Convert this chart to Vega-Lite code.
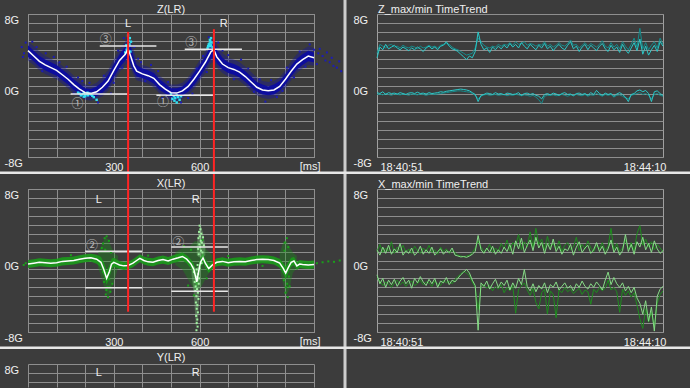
{
"$schema": "https://vega.github.io/schema/vega-lite/v6.json",
"background": "#3c3c3c",
"padding": 0,
"bounds": "flush",
"columns": 2,
"spacing": {"row": 32, "column": 63},
"config": {
 "view": {"stroke": "#a0a0a0", "strokeWidth": 1},
 "font": "Liberation Sans",
 "axis": {"labelColor": "#f0f0f0", "labelFont": "Liberation Sans", "labelFontSize": 11, "gridColor": "#8e8e8e", "gridWidth": 1, "gridOpacity": 1, "titleColor": "#f0f0f0", "titleFont": "Liberation Sans", "titleFontSize": 11, "titleFontWeight": "normal"},
 "title": {"color": "#f0f0f0", "font": "Liberation Sans", "fontSize": 11, "fontWeight": "normal"},
 "text": {"font": "Liberation Sans"}
},
"datasets": {
 "zm": [
  {"ms":0,"g":3.9,"lo":3.2,"hi":4.5,"lo2":2.8,"hi2":4.9},
  {"ms":20,"g":3.3,"lo":2.7,"hi":3.9,"lo2":2.3,"hi2":4.4},
  {"ms":40,"g":2.7,"lo":2.1,"hi":3.3,"lo2":1.7,"hi2":3.8},
  {"ms":60,"g":2.3,"lo":1.7,"hi":2.9,"lo2":1.3,"hi2":3.3},
  {"ms":80,"g":2.0,"lo":1.4,"hi":2.6,"lo2":1.0,"hi2":3.0},
  {"ms":100,"g":1.7,"lo":1.1,"hi":2.3,"lo2":0.7,"hi2":2.7},
  {"ms":120,"g":1.2,"lo":0.6,"hi":1.8,"lo2":0.2,"hi2":2.2},
  {"ms":140,"g":0.7,"lo":0.1,"hi":1.3,"lo2":-0.3,"hi2":1.7},
  {"ms":160,"g":0.1,"lo":-0.5,"hi":0.7,"lo2":-0.9,"hi2":1.1},
  {"ms":180,"g":-0.4,"lo":-0.9,"hi":0.2,"lo2":-1.3,"hi2":0.6},
  {"ms":200,"g":-0.8,"lo":-1.2,"hi":-0.3,"lo2":-1.6,"hi2":0.1},
  {"ms":220,"g":-0.9,"lo":-1.3,"hi":-0.4,"lo2":-1.7,"hi2":0.0},
  {"ms":240,"g":-0.7,"lo":-1.2,"hi":-0.1,"lo2":-1.5,"hi2":0.3},
  {"ms":260,"g":-0.2,"lo":-0.8,"hi":0.4,"lo2":-1.2,"hi2":0.9},
  {"ms":280,"g":0.5,"lo":-0.2,"hi":1.2,"lo2":-0.6,"hi2":1.7},
  {"ms":300,"g":1.7,"lo":0.9,"hi":2.4,"lo2":0.4,"hi2":2.9},
  {"ms":320,"g":2.8,"lo":2.0,"hi":3.5,"lo2":1.5,"hi2":4.0},
  {"ms":340,"g":3.5,"lo":2.8,"hi":4.3,"lo2":2.3,"hi2":4.9},
  {"ms":350,"g":4.1,"lo":3.2,"hi":4.8,"lo2":2.6,"hi2":5.6},
  {"ms":360,"g":3.2,"lo":2.3,"hi":4.3,"lo2":1.8,"hi2":5.0},
  {"ms":370,"g":2.2,"lo":1.5,"hi":3.2,"lo2":1.1,"hi2":3.9},
  {"ms":380,"g":1.6,"lo":1.0,"hi":2.3,"lo2":0.6,"hi2":2.8},
  {"ms":400,"g":1.3,"lo":0.8,"hi":1.9,"lo2":0.4,"hi2":2.3},
  {"ms":420,"g":1.1,"lo":0.6,"hi":1.7,"lo2":0.2,"hi2":2.1},
  {"ms":440,"g":0.8,"lo":0.2,"hi":1.4,"lo2":-0.2,"hi2":1.8},
  {"ms":460,"g":0.1,"lo":-0.5,"hi":0.7,"lo2":-0.9,"hi2":1.1},
  {"ms":480,"g":-0.4,"lo":-0.9,"hi":0.2,"lo2":-1.3,"hi2":0.6},
  {"ms":500,"g":-0.8,"lo":-1.3,"hi":-0.3,"lo2":-1.7,"hi2":0.1},
  {"ms":520,"g":-0.85,"lo":-1.4,"hi":-0.3,"lo2":-1.8,"hi2":0.1},
  {"ms":540,"g":-0.6,"lo":-1.1,"hi":-0.1,"lo2":-1.5,"hi2":0.3},
  {"ms":560,"g":-0.1,"lo":-0.7,"hi":0.5,"lo2":-1.1,"hi2":0.9},
  {"ms":580,"g":0.7,"lo":0.0,"hi":1.4,"lo2":-0.4,"hi2":1.8},
  {"ms":600,"g":1.6,"lo":0.9,"hi":2.3,"lo2":0.5,"hi2":2.8},
  {"ms":620,"g":2.6,"lo":1.9,"hi":3.3,"lo2":1.4,"hi2":3.8},
  {"ms":640,"g":3.8,"lo":3.0,"hi":4.5,"lo2":2.5,"hi2":5.0},
  {"ms":650,"g":4.0,"lo":3.2,"hi":4.8,"lo2":2.7,"hi2":5.5},
  {"ms":660,"g":3.2,"lo":2.5,"hi":4.0,"lo2":2.0,"hi2":4.6},
  {"ms":680,"g":2.4,"lo":1.8,"hi":3.1,"lo2":1.4,"hi2":3.6},
  {"ms":700,"g":2.0,"lo":1.4,"hi":2.6,"lo2":1.0,"hi2":3.1},
  {"ms":720,"g":1.8,"lo":1.2,"hi":2.4,"lo2":0.8,"hi2":2.9},
  {"ms":740,"g":1.5,"lo":0.9,"hi":2.1,"lo2":0.5,"hi2":2.6},
  {"ms":760,"g":1.0,"lo":0.4,"hi":1.6,"lo2":0.0,"hi2":2.1},
  {"ms":780,"g":0.4,"lo":-0.2,"hi":1.0,"lo2":-0.6,"hi2":1.5},
  {"ms":800,"g":-0.2,"lo":-0.7,"hi":0.4,"lo2":-1.1,"hi2":0.9},
  {"ms":820,"g":-0.5,"lo":-1.0,"hi":0.1,"lo2":-1.4,"hi2":0.5},
  {"ms":840,"g":-0.6,"lo":-1.1,"hi":-0.1,"lo2":-1.5,"hi2":0.4},
  {"ms":860,"g":-0.5,"lo":-1.0,"hi":0.1,"lo2":-1.4,"hi2":0.5},
  {"ms":880,"g":-0.1,"lo":-0.6,"hi":0.5,"lo2":-1.0,"hi2":0.9},
  {"ms":900,"g":0.7,"lo":0.1,"hi":1.3,"lo2":-0.3,"hi2":1.7},
  {"ms":920,"g":1.6,"lo":1.0,"hi":2.2,"lo2":0.6,"hi2":2.7},
  {"ms":940,"g":2.4,"lo":1.8,"hi":3.0,"lo2":1.4,"hi2":3.5},
  {"ms":960,"g":2.9,"lo":2.3,"hi":3.5,"lo2":1.9,"hi2":4.0},
  {"ms":980,"g":3.3,"lo":2.7,"hi":3.9,"lo2":2.3,"hi2":4.4},
  {"ms":1000,"g":3.1,"lo":2.6,"hi":3.7,"lo2":2.2,"hi2":4.2}
 ],
 "zpts": [
  {"ms":-22,"g":4.3},{"ms":-14,"g":3.6},{"ms":-8,"g":4.8},{"ms":-18,"g":3.2},{"ms":15,"g":4.9},{"ms":30,"g":4.3},{"ms":62,"g":3.6},{"ms":110,"g":2.6},{"ms":135,"g":2.1},{"ms":175,"g":0.9},{"ms":215,"g":0.3},{"ms":245,"g":-1.9},{"ms":290,"g":-0.9},{"ms":315,"g":3.9},{"ms":335,"g":5.3},{"ms":372,"g":4.3},{"ms":395,"g":2.6},{"ms":430,"g":2.3},{"ms":470,"g":-1.4},{"ms":535,"g":-1.9},{"ms":575,"g":-0.9},{"ms":612,"g":3.3},{"ms":632,"g":5.4},{"ms":665,"g":4.8},{"ms":700,"g":3.4},{"ms":745,"g":2.9},{"ms":790,"g":-0.7},{"ms":830,"g":-1.8},{"ms":870,"g":-1.3},{"ms":905,"g":2.0},{"ms":950,"g":3.8},{"ms":985,"g":4.6},{"ms":1000,"g":4.0},{"ms":1015,"g":3.6},{"ms":1030,"g":3.3},{"ms":1040,"g":2.8},{"ms":1055,"g":2.6},{"ms":1068,"g":2.2},{"ms":1080,"g":2.0},{"ms":1095,"g":1.6},{"ms":1020,"g":4.1},{"ms":1045,"g":3.7},{"ms":1010,"g":2.4},{"ms":1062,"g":3.1},{"ms":1088,"g":2.7},
  {"ms":50,"g":1.6},{"ms":90,"g":3.2},{"ms":160,"g":-0.9},{"ms":190,"g":0.5},{"ms":265,"g":1.1},{"ms":300,"g":0.3},{"ms":330,"g":2.0},{"ms":385,"g":3.0},{"ms":410,"g":0.5},{"ms":455,"g":1.6},{"ms":490,"g":0.4},{"ms":560,"g":-1.4},{"ms":590,"g":1.9},{"ms":625,"g":1.5},{"ms":680,"g":3.9},{"ms":720,"g":0.7},{"ms":770,"g":1.9},{"ms":810,"g":0.7},{"ms":850,"g":0.6},{"ms":890,"g":-0.6},{"ms":930,"g":0.9},{"ms":970,"g":2.1}
 ],
 "zcyan": [
  {"ms":175,"g":-0.8},{"ms":180,"g":-0.9},{"ms":185,"g":-1.1},{"ms":190,"g":-1.0},{"ms":195,"g":-0.85},{"ms":195,"g":-1.25},{"ms":200,"g":-1.05},{"ms":200,"g":-1.2},{"ms":205,"g":-0.95},{"ms":208,"g":-0.8},{"ms":210,"g":-1.1},{"ms":215,"g":-0.9},{"ms":220,"g":-1.0},{"ms":225,"g":-1.15},{"ms":230,"g":-1.3},{"ms":240,"g":-1.6},
  {"ms":340,"g":3.7},{"ms":344,"g":4.5},{"ms":345,"g":4.0},{"ms":348,"g":4.2},{"ms":350,"g":4.4},{"ms":350,"g":5.6},{"ms":352,"g":5.0},{"ms":355,"g":4.6},{"ms":356,"g":5.3},{"ms":358,"g":3.8},{"ms":360,"g":4.9},
  {"ms":500,"g":-1.0},{"ms":505,"g":-1.5},{"ms":510,"g":-1.2},{"ms":512,"g":-1.7},{"ms":515,"g":-1.4},{"ms":520,"g":-1.1},{"ms":520,"g":-1.9},{"ms":525,"g":-1.3},{"ms":530,"g":-1.6},{"ms":535,"g":-1.2},
  {"ms":628,"g":4.2},{"ms":630,"g":4.4},{"ms":632,"g":4.6},{"ms":635,"g":4.7},{"ms":636,"g":5.1},{"ms":637,"g":4.4},{"ms":638,"g":4.9},{"ms":640,"g":4.5},{"ms":640,"g":5.3},{"ms":642,"g":4.8},{"ms":645,"g":4.3},{"ms":648,"g":4.1}
 ],
 "zthr": [{"ms":149,"ms2":348,"g":-0.95},{"ms":251,"ms2":449,"g":4.42},{"ms":449,"ms2":647,"g":-1.1},{"ms":548,"ms2":748,"g":4.05}],
 "zcirc": [{"ms":272,"g":5.09,"txt":"③"},{"ms":173,"g":-2.1,"txt":"①"},{"ms":472,"g":-1.88,"txt":"①"},{"ms":571,"g":4.72,"txt":"③"}],
 "zlr": [{"ms":350,"g":6.88,"txt":"L"},{"ms":684,"g":6.88,"txt":"R"}],
 "zred": [{"ms":350,"g":6.0},{"ms":650,"g":6.3}],
 "xm": [
  {"ms":0,"g":-0.4,"lo":-0.85,"hi":0.05},{"ms":20,"g":-0.3,"lo":-0.75,"hi":0.15},{"ms":40,"g":-0.2,"lo":-0.65,"hi":0.25},{"ms":60,"g":-0.25,"lo":-0.7,"hi":0.2},{"ms":80,"g":-0.3,"lo":-0.75,"hi":0.15},{"ms":100,"g":-0.25,"lo":-0.7,"hi":0.2},{"ms":120,"g":-0.1,"lo":-0.55,"hi":0.35},{"ms":140,"g":-0.05,"lo":-0.5,"hi":0.4},{"ms":160,"g":0.0,"lo":-0.45,"hi":0.45},{"ms":180,"g":0.15,"lo":-0.3,"hi":0.6},{"ms":200,"g":0.25,"lo":-0.2,"hi":0.7},{"ms":220,"g":0.3,"lo":-0.15,"hi":0.75},{"ms":240,"g":0.15,"lo":-0.35,"hi":0.65},{"ms":255,"g":-0.2,"lo":-0.8,"hi":0.4},{"ms":265,"g":-1.0,"lo":-1.7,"hi":-0.2},{"ms":275,"g":-2.0,"lo":-2.7,"hi":-1.2},{"ms":285,"g":-1.2,"lo":-1.9,"hi":-0.5},{"ms":292,"g":-0.4,"lo":-1.0,"hi":0.2},{"ms":300,"g":-0.2,"lo":-0.7,"hi":0.3},{"ms":310,"g":-0.35,"lo":-0.8,"hi":0.1},{"ms":320,"g":-0.5,"lo":-0.95,"hi":-0.05},{"ms":335,"g":-0.6,"lo":-1.05,"hi":-0.15},{"ms":350,"g":-0.55,"lo":-1.0,"hi":-0.1},{"ms":367,"g":-0.3,"lo":-0.75,"hi":0.15},{"ms":380,"g":0.0,"lo":-0.45,"hi":0.45},{"ms":391,"g":0.25,"lo":-0.2,"hi":0.7},{"ms":405,"g":0.0,"lo":-0.45,"hi":0.45},{"ms":420,"g":-0.15,"lo":-0.6,"hi":0.3},{"ms":437,"g":-0.2,"lo":-0.65,"hi":0.25},{"ms":455,"g":0.0,"lo":-0.45,"hi":0.45},{"ms":472,"g":0.1,"lo":-0.35,"hi":0.55},{"ms":490,"g":-0.05,"lo":-0.5,"hi":0.4},{"ms":507,"g":0.15,"lo":-0.3,"hi":0.6},{"ms":525,"g":0.3,"lo":-0.15,"hi":0.75},{"ms":540,"g":0.45,"lo":0.0,"hi":0.9},{"ms":555,"g":0.15,"lo":-0.3,"hi":0.6},{"ms":570,"g":-0.4,"lo":-0.9,"hi":0.1},{"ms":580,"g":-1.0,"lo":-1.6,"hi":-0.4},{"ms":590,"g":-2.4,"lo":-3.1,"hi":-1.7},{"ms":597,"g":-1.2,"lo":-1.9,"hi":-0.5},{"ms":603,"g":-0.2,"lo":-0.8,"hi":0.4},{"ms":612,"g":0.3,"lo":-0.2,"hi":0.8},{"ms":620,"g":-0.3,"lo":-0.8,"hi":0.2},{"ms":632,"g":-0.9,"lo":-1.4,"hi":-0.4},{"ms":645,"g":-0.5,"lo":-0.95,"hi":-0.05},{"ms":660,"g":-0.2,"lo":-0.65,"hi":0.25},{"ms":680,"g":-0.1,"lo":-0.55,"hi":0.35},{"ms":700,"g":-0.25,"lo":-0.7,"hi":0.2},{"ms":720,"g":-0.15,"lo":-0.6,"hi":0.3},{"ms":740,"g":-0.1,"lo":-0.55,"hi":0.35},{"ms":760,"g":-0.15,"lo":-0.6,"hi":0.3},{"ms":780,"g":0.0,"lo":-0.45,"hi":0.45},{"ms":800,"g":0.1,"lo":-0.35,"hi":0.55},{"ms":820,"g":0.15,"lo":-0.3,"hi":0.6},{"ms":840,"g":0.1,"lo":-0.35,"hi":0.55},{"ms":860,"g":0.0,"lo":-0.45,"hi":0.45},{"ms":880,"g":-0.3,"lo":-0.8,"hi":0.2},{"ms":893,"g":-0.9,"lo":-1.5,"hi":-0.3},{"ms":901,"g":-1.4,"lo":-2.1,"hi":-0.7},{"ms":910,"g":-0.8,"lo":-1.4,"hi":-0.2},{"ms":920,"g":-0.2,"lo":-0.7,"hi":0.3},{"ms":930,"g":-0.05,"lo":-0.5,"hi":0.4},{"ms":940,"g":-0.6,"lo":-1.05,"hi":-0.15},{"ms":950,"g":-0.4,"lo":-0.85,"hi":0.05},{"ms":960,"g":-0.45,"lo":-0.9,"hi":0.0},{"ms":980,"g":-0.5,"lo":-0.95,"hi":-0.05},{"ms":1000,"g":-0.45,"lo":-0.9,"hi":0.0}
 ],
 "xspd": [
  {"grp":"a","ms":245,"lo":-0.8,"hi":0.8},{"grp":"a","ms":258,"lo":-2.0,"hi":1.8},{"grp":"a","ms":270,"lo":-3.4,"hi":2.6},{"grp":"a","ms":280,"lo":-4.0,"hi":2.4},{"grp":"a","ms":290,"lo":-3.6,"hi":1.6},{"grp":"a","ms":302,"lo":-2.2,"hi":0.8},{"grp":"a","ms":315,"lo":-0.8,"hi":0.5},
  {"grp":"b","ms":515,"lo":-0.5,"hi":0.9},{"grp":"b","ms":540,"lo":-1.0,"hi":1.4},{"grp":"b","ms":565,"lo":-2.4,"hi":1.6},{"grp":"b","ms":585,"lo":-3.5,"hi":2.2},{"grp":"b","ms":605,"lo":-3.0,"hi":2.0},{"grp":"b","ms":625,"lo":-1.8,"hi":1.2},{"grp":"b","ms":645,"lo":-0.8,"hi":0.6},
  {"grp":"c","ms":880,"lo":-0.9,"hi":0.8},{"grp":"c","ms":892,"lo":-2.6,"hi":2.0},{"grp":"c","ms":902,"lo":-4.0,"hi":2.3},{"grp":"c","ms":914,"lo":-3.2,"hi":1.5},{"grp":"c","ms":926,"lo":-1.4,"hi":0.9},{"grp":"c","ms":940,"lo":-0.8,"hi":0.5}
 ],
 "xspl": [
  {"grp":"u","ms":590,"lo":0.6,"hi":1.8},{"grp":"u","ms":597,"lo":0.4,"hi":3.4},{"grp":"u","ms":604,"lo":0.3,"hi":4.0},{"grp":"u","ms":612,"lo":0.4,"hi":3.1},{"grp":"u","ms":620,"lo":0.6,"hi":1.6},
  {"grp":"d","ms":572,"lo":-1.6,"hi":-0.6},{"grp":"d","ms":580,"lo":-3.8,"hi":-0.6},{"grp":"d","ms":587,"lo":-7.4,"hi":-0.9},{"grp":"d","ms":594,"lo":-6.8,"hi":-0.7},{"grp":"d","ms":601,"lo":-2.6,"hi":-0.4}
 ],
 "xpts": [
  {"ms":262,"g":1.9},{"ms":268,"g":2.5},{"ms":275,"g":2.7},{"ms":283,"g":2.2},{"ms":272,"g":-3.8},{"ms":280,"g":-4.1},{"ms":288,"g":-3.5},{"ms":278,"g":-3.0},{"ms":295,"g":-2.6},{"ms":258,"g":1.4},{"ms":266,"g":-2.4},{"ms":284,"g":-2.1},{"ms":276,"g":-1.6},{"ms":270,"g":1.2},{"ms":290,"g":0.9},{"ms":286,"g":-3.0},{"ms":274,"g":-3.3},{"ms":262,"g":-1.3},
  {"ms":-8,"g":-0.3},{"ms":-15,"g":-0.5},{"ms":1010,"g":-0.3},{"ms":1030,"g":-0.2},{"ms":1050,"g":-0.1},{"ms":1070,"g":-0.15},{"ms":1090,"g":0.0},
  {"ms":905,"g":2.5},{"ms":898,"g":2.0},{"ms":908,"g":-4.1},{"ms":900,"g":-3.6},{"ms":915,"g":-2.9},{"ms":895,"g":-2.2},{"ms":910,"g":1.5},{"ms":903,"g":-3.0},{"ms":897,"g":1.1},{"ms":912,"g":-1.8},{"ms":906,"g":-2.6},
  {"ms":560,"g":-2.8},{"ms":580,"g":-3.9},{"ms":610,"g":2.3},{"ms":545,"g":1.6},{"ms":570,"g":1.2},{"ms":625,"g":-2.0},{"ms":150,"g":0.6},{"ms":420,"g":0.55},{"ms":700,"g":0.5},{"ms":820,"g":-0.6}
 ],
 "xlpts": [
  {"ms":600,"g":3.9},{"ms":603,"g":3.5},{"ms":598,"g":3.2},{"ms":606,"g":3.0},{"ms":601,"g":2.7},{"ms":596,"g":2.5},{"ms":604,"g":2.2},{"ms":608,"g":2.0},{"ms":599,"g":1.8},{"ms":602,"g":1.5},{"ms":595,"g":1.3},{"ms":605,"g":1.1},{"ms":610,"g":0.9},{"ms":612,"g":2.6},{"ms":615,"g":1.7},{"ms":597,"g":0.7},{"ms":607,"g":-0.3},{"ms":600,"g":-0.9},{"ms":593,"g":-0.5},{"ms":590,"g":-1.0},{"ms":580,"g":-1.3},{"ms":595,"g":-1.5},{"ms":588,"g":-1.8},{"ms":598,"g":-2.0},{"ms":592,"g":-2.2},{"ms":583,"g":-2.4},{"ms":597,"g":-2.6},{"ms":586,"g":-2.9},{"ms":591,"g":-3.2},{"ms":585,"g":-3.4},{"ms":594,"g":-3.6},{"ms":589,"g":-4.0},{"ms":596,"g":-4.3},{"ms":587,"g":-4.7},{"ms":592,"g":-5.0},{"ms":590,"g":-5.4},{"ms":594,"g":-5.8},{"ms":588,"g":-6.2},{"ms":592,"g":-6.6},{"ms":590,"g":-7.0},{"ms":593,"g":-7.4},{"ms":589,"g":-7.8}
 ],
 "xthr": [{"ms":200,"ms2":399,"g":1.03},{"ms":200,"ms2":399,"g":-3.04},{"ms":501,"ms2":699,"g":1.51},{"ms":501,"ms2":699,"g":-3.45}],
 "xcirc": [{"ms":224,"g":1.62,"txt":"②"},{"ms":525,"g":2.0,"txt":"②"}],
 "xlr": [{"ms":248,"g":6.77,"txt":"L"},{"ms":586,"g":6.77,"txt":"R"}],
 "xred": [{"ms":350,"g":8},{"ms":650,"g":8}],
 "ylr": [{"ms":248,"g":6.96,"txt":"L"},{"ms":586,"g":6.96,"txt":"R"}],
 "trend": [
  {"t":0,"zu":3.1,"zu2":3.6,"zl":-0.8,"zl2":-1.0,"xu":1.2,"xu2":1.0,"xl":-1.6,"xl2":-2.0},
  {"t":2,"zu":4.3,"zu2":4.6,"zl":-0.9,"zl2":-0.95,"xu":0.6,"xu2":1.8,"xl":-2.6,"xl2":-2.3},
  {"t":4,"zu":4.0,"zu2":4.4,"zl":-0.7,"zl2":-1.05,"xu":1.5,"xu2":0.9,"xl":-2.0,"xl2":-2.8},
  {"t":6,"zu":4.6,"zu2":4.2,"zl":-1.0,"zl2":-0.9,"xu":0.8,"xu2":1.4,"xl":-3.0,"xl2":-2.4},
  {"t":8,"zu":4.1,"zu2":4.5,"zl":-0.8,"zl2":-1.0,"xu":1.7,"xu2":1.0,"xl":-2.2,"xl2":-2.6},
  {"t":10,"zu":4.3,"zu2":4.6,"zl":-0.9,"zl2":-1.1,"xu":0.7,"xu2":2.1,"xl":-2.7,"xl2":-3.0},
  {"t":12,"zu":4.5,"zu2":4.3,"zl":-0.85,"zl2":-0.95,"xu":1.3,"xu2":0.8,"xl":-2.1,"xl2":-2.5},
  {"t":14,"zu":4.2,"zu2":4.4,"zl":-0.95,"zl2":-1.0,"xu":0.9,"xu2":1.5,"xl":-2.9,"xl2":-2.2},
  {"t":16,"zu":4.0,"zu2":4.2,"zl":-0.8,"zl2":-1.05,"xu":1.9,"xu2":1.1,"xl":-2.3,"xl2":-2.7},
  {"t":18,"zu":4.3,"zu2":4.5,"zl":-0.9,"zl2":-0.95,"xu":0.6,"xu2":1.7,"xl":-1.9,"xl2":-2.4},
  {"t":20,"zu":4.1,"zu2":4.3,"zl":-1.0,"zl2":-1.0,"xu":1.1,"xu2":0.9,"xl":-2.6,"xl2":-2.9},
  {"t":22,"zu":3.9,"zu2":4.2,"zl":-0.85,"zl2":-1.1,"xu":0.8,"xu2":1.3,"xl":-2.2,"xl2":-2.5},
  {"t":24,"zu":4.2,"zu2":4.4,"zl":-0.8,"zl2":-0.95,"xu":1.4,"xu2":0.8,"xl":-3.1,"xl2":-2.3},
  {"t":26,"zu":4.0,"zu2":4.3,"zl":-0.9,"zl2":-1.0,"xu":0.6,"xu2":1.6,"xl":-2.0,"xl2":-2.8},
  {"t":28,"zu":4.3,"zu2":4.1,"zl":-0.75,"zl2":-1.05,"xu":0.9,"xu2":1.1,"xl":-2.5,"xl2":-2.6},
  {"t":30,"zu":4.1,"zu2":4.4,"zl":-0.9,"zl2":-0.95,"xu":1.6,"xu2":0.8,"xl":-1.8,"xl2":-2.2},
  {"t":32,"zu":3.8,"zu2":4.2,"zl":-0.85,"zl2":-1.0,"xu":0.7,"xu2":1.4,"xl":-2.4,"xl2":-2.7},
  {"t":34,"zu":4.2,"zu2":4.3,"zl":-0.95,"zl2":-1.1,"xu":1.2,"xu2":1.0,"xl":-2.8,"xl2":-2.4},
  {"t":36,"zu":4.4,"zu2":4.5,"zl":-0.8,"zl2":-1.0,"xu":0.8,"xu2":1.7,"xl":-2.1,"xl2":-2.5},
  {"t":38,"zu":4.1,"zu2":4.3,"zl":-0.9,"zl2":-0.95,"xu":1.5,"xu2":0.9,"xl":-2.6,"xl2":-2.9},
  {"t":40,"zu":4.3,"zu2":4.4,"zl":-0.85,"zl2":-1.0,"xu":0.6,"xu2":1.2,"xl":-2.0,"xl2":-2.3},
  {"t":42,"zu":4.0,"zu2":4.2,"zl":-0.8,"zl2":-0.95,"xu":1.0,"xu2":0.7,"xl":-3.0,"xl2":-2.6},
  {"t":44,"zu":4.4,"zu2":4.5,"zl":-0.7,"zl2":-0.9,"xu":1.3,"xu2":1.5,"xl":-2.3,"xl2":-2.8},
  {"t":46,"zu":4.5,"zu2":4.6,"zl":-0.75,"zl2":-0.85,"xu":0.7,"xu2":1.0,"xl":-2.5,"xl2":-2.2},
  {"t":48,"zu":4.9,"zu2":4.7,"zl":-0.65,"zl2":-0.8,"xu":1.1,"xu2":1.3,"xl":-1.9,"xl2":-2.5},
  {"t":50,"zu":4.4,"zu2":4.6,"zl":-0.6,"zl2":-0.75,"xu":0.9,"xu2":0.8,"xl":-2.7,"xl2":-2.3},
  {"t":52,"zu":4.1,"zu2":4.3,"zl":-0.55,"zl2":-0.7,"xu":1.4,"xu2":1.1,"xl":-2.2,"xl2":-2.6},
  {"t":54,"zu":4.0,"zu2":4.1,"zl":-0.5,"zl2":-0.65,"xu":0.6,"xu2":0.9,"xl":-2.4,"xl2":-2.1},
  {"t":56,"zu":3.8,"zu2":4.0,"zl":-0.45,"zl2":-0.6,"xu":0.5,"xu2":0.6,"xl":-2.0,"xl2":-1.8},
  {"t":58,"zu":3.5,"zu2":3.8,"zl":-0.4,"zl2":-0.6,"xu":0.4,"xu2":0.5,"xl":-1.6,"xl2":-1.5},
  {"t":60,"zu":3.2,"zu2":3.6,"zl":-0.45,"zl2":-0.65,"xu":0.45,"xu2":0.4,"xl":-1.3,"xl2":-1.2},
  {"t":62,"zu":2.9,"zu2":3.4,"zl":-0.5,"zl2":-0.7,"xu":0.35,"xu2":0.5,"xl":-1.0,"xl2":-1.4},
  {"t":64,"zu":3.3,"zu2":3.5,"zl":-0.6,"zl2":-0.75,"xu":0.5,"xu2":0.6,"xl":-1.4,"xl2":-1.7},
  {"t":66,"zu":3.1,"zu2":3.6,"zl":-0.8,"zl2":-0.9,"xu":0.7,"xu2":0.9,"xl":-2.2,"xl2":-2.4},
  {"t":68,"zu":3.8,"zu2":4.2,"zl":-1.0,"zl2":-1.1,"xu":1.0,"xu2":1.4,"xl":-2.8,"xl2":-3.0},
  {"t":70,"zu":6.0,"zu2":5.3,"zl":-1.8,"zl2":-1.5,"xu":2.8,"xu2":2.2,"xl":-7.8,"xl2":-5.5},
  {"t":72,"zu":4.6,"zu2":4.9,"zl":-1.1,"zl2":-1.2,"xu":1.2,"xu2":1.5,"xl":-2.5,"xl2":-3.0},
  {"t":74,"zu":4.0,"zu2":4.5,"zl":-1.0,"zl2":-1.05,"xu":0.8,"xu2":1.0,"xl":-2.9,"xl2":-2.7},
  {"t":76,"zu":4.2,"zu2":4.3,"zl":-0.85,"zl2":-1.0,"xu":1.4,"xu2":1.2,"xl":-2.3,"xl2":-3.1},
  {"t":78,"zu":3.7,"zu2":4.2,"zl":-0.9,"zl2":-1.1,"xu":0.9,"xu2":1.8,"xl":-3.2,"xl2":-2.8},
  {"t":80,"zu":4.3,"zu2":4.4,"zl":-1.0,"zl2":-1.05,"xu":1.6,"xu2":0.9,"xl":-2.6,"xl2":-3.4},
  {"t":82,"zu":4.0,"zu2":4.3,"zl":-0.8,"zl2":-1.0,"xu":0.7,"xu2":1.4,"xl":-2.1,"xl2":-2.9},
  {"t":84,"zu":4.4,"zu2":4.6,"zl":-0.95,"zl2":-1.1,"xu":1.2,"xu2":1.0,"xl":-3.0,"xl2":-3.2},
  {"t":86,"zu":4.1,"zu2":4.4,"zl":-0.9,"zl2":-1.05,"xu":0.8,"xu2":1.9,"xl":-2.4,"xl2":-2.7},
  {"t":88,"zu":4.5,"zu2":4.6,"zl":-1.05,"zl2":-1.0,"xu":1.5,"xu2":1.3,"xl":-2.8,"xl2":-3.6},
  {"t":90,"zu":4.2,"zu2":4.5,"zl":-0.85,"zl2":-1.15,"xu":1.0,"xu2":2.3,"xl":-2.2,"xl2":-3.0},
  {"t":92,"zu":4.7,"zu2":4.8,"zl":-0.9,"zl2":-1.05,"xu":1.8,"xu2":1.1,"xl":-3.3,"xl2":-3.4},
  {"t":94,"zu":4.3,"zu2":4.5,"zl":-1.0,"zl2":-1.1,"xu":0.7,"xu2":2.0,"xl":-2.5,"xl2":-2.8},
  {"t":96,"zu":4.6,"zu2":4.9,"zl":-0.95,"zl2":-1.0,"xu":2.2,"xu2":1.6,"xl":-3.1,"xl2":-5.9},
  {"t":98,"zu":4.2,"zu2":4.6,"zl":-0.8,"zl2":-1.05,"xu":1.3,"xu2":2.9,"xl":-2.0,"xl2":-3.2},
  {"t":100,"zu":4.8,"zu2":4.7,"zl":-1.1,"zl2":-1.15,"xu":2.5,"xu2":1.2,"xl":-2.7,"xl2":-2.9},
  {"t":102,"zu":4.4,"zu2":4.9,"zl":-0.9,"zl2":-1.05,"xu":0.9,"xu2":2.1,"xl":-1.0,"xl2":-2.5},
  {"t":104,"zu":4.1,"zu2":4.5,"zl":-0.85,"zl2":-1.1,"xu":1.7,"xu2":1.5,"xl":-2.9,"xl2":-3.3},
  {"t":106,"zu":4.6,"zu2":4.7,"zl":-1.0,"zl2":-1.2,"xu":2.3,"xu2":3.2,"xl":-3.4,"xl2":-3.9},
  {"t":108,"zu":4.3,"zu2":4.6,"zl":-0.9,"zl2":-1.1,"xu":1.1,"xu2":1.4,"xl":-2.6,"xl2":-3.1},
  {"t":110,"zu":4.0,"zu2":4.4,"zl":-1.1,"zl2":-1.3,"xu":2.6,"xu2":3.6,"xl":-3.5,"xl2":-4.7},
  {"t":112,"zu":4.5,"zu2":4.6,"zl":-1.2,"zl2":-1.6,"xu":1.4,"xu2":1.8,"xl":-2.8,"xl2":-5.4},
  {"t":114,"zu":4.2,"zu2":4.5,"zl":-1.5,"zl2":-2.0,"xu":2.0,"xu2":2.4,"xl":-3.2,"xl2":-3.6},
  {"t":116,"zu":4.7,"zu2":4.9,"zl":-1.0,"zl2":-1.2,"xu":0.8,"xu2":1.2,"xl":-2.5,"xl2":-3.2},
  {"t":118,"zu":4.1,"zu2":4.4,"zl":-0.9,"zl2":-1.1,"xu":1.9,"xu2":2.7,"xl":-3.6,"xl2":-6.0},
  {"t":120,"zu":4.4,"zu2":4.6,"zl":-1.05,"zl2":-1.1,"xu":1.2,"xu2":1.5,"xl":-2.7,"xl2":-3.4},
  {"t":122,"zu":3.9,"zu2":4.3,"zl":-0.85,"zl2":-1.05,"xu":2.4,"xu2":1.9,"xl":-3.0,"xl2":-3.8},
  {"t":124,"zu":4.3,"zu2":4.5,"zl":-0.95,"zl2":-1.15,"xu":1.0,"xu2":1.3,"xl":-2.4,"xl2":-6.4},
  {"t":126,"zu":4.6,"zu2":4.8,"zl":-1.1,"zl2":-1.1,"xu":1.6,"xu2":2.2,"xl":-3.3,"xl2":-3.3},
  {"t":128,"zu":4.2,"zu2":4.5,"zl":-0.9,"zl2":-1.0,"xu":0.7,"xu2":1.0,"xl":-2.9,"xl2":-3.6},
  {"t":130,"zu":4.0,"zu2":4.4,"zl":-0.8,"zl2":-1.1,"xu":1.3,"xu2":1.7,"xl":-2.5,"xl2":-3.0},
  {"t":132,"zu":4.5,"zu2":4.7,"zl":-1.0,"zl2":-1.2,"xu":1.1,"xu2":2.0,"xl":-3.1,"xl2":-3.5},
  {"t":134,"zu":4.9,"zu2":5.1,"zl":-0.95,"zl2":-1.05,"xu":1.8,"xu2":1.2,"xl":-2.8,"xl2":-3.2},
  {"t":136,"zu":4.1,"zu2":4.5,"zl":-1.15,"zl2":-1.1,"xu":0.6,"xu2":1.5,"xl":-3.4,"xl2":-3.7},
  {"t":138,"zu":4.4,"zu2":4.6,"zl":-0.9,"zl2":-1.0,"xu":1.5,"xu2":2.6,"xl":-2.6,"xl2":-3.4},
  {"t":140,"zu":3.8,"zu2":4.2,"zl":-0.85,"zl2":-1.1,"xu":2.1,"xu2":1.1,"xl":-3.0,"xl2":-3.1},
  {"t":142,"zu":4.3,"zu2":4.5,"zl":-1.0,"zl2":-1.15,"xu":0.9,"xu2":1.8,"xl":-2.3,"xl2":-3.8},
  {"t":144,"zu":4.6,"zu2":4.8,"zl":-0.9,"zl2":-1.0,"xu":1.4,"xu2":1.3,"xl":-2.9,"xl2":-3.3},
  {"t":146,"zu":4.0,"zu2":4.4,"zl":-1.1,"zl2":-1.2,"xu":1.7,"xu2":2.2,"xl":-3.2,"xl2":-3.5},
  {"t":148,"zu":4.5,"zu2":4.7,"zl":-0.8,"zl2":-1.05,"xu":0.8,"xu2":1.4,"xl":-2.6,"xl2":-4.9},
  {"t":150,"zu":4.2,"zu2":4.5,"zl":-1.0,"zl2":-1.1,"xu":1.2,"xu2":1.0,"xl":-3.0,"xl2":-3.2},
  {"t":152,"zu":3.9,"zu2":4.3,"zl":-0.55,"zl2":-0.9,"xu":2.0,"xu2":1.7,"xl":-2.4,"xl2":-3.6},
  {"t":154,"zu":4.4,"zu2":4.6,"zl":-0.9,"zl2":-1.05,"xu":1.0,"xu2":1.3,"xl":-2.8,"xl2":-3.0},
  {"t":156,"zu":4.7,"zu2":5.0,"zl":-1.1,"zl2":-1.2,"xu":1.6,"xu2":2.0,"xl":-3.3,"xl2":-3.4},
  {"t":158,"zu":4.1,"zu2":4.4,"zl":-0.85,"zl2":-1.0,"xu":0.7,"xu2":1.1,"xl":-2.2,"xl2":-3.1},
  {"t":160,"zu":3.8,"zu2":4.2,"zl":-1.0,"zl2":-1.1,"xu":1.3,"xu2":1.6,"xl":-1.3,"xl2":-2.2},
  {"t":162,"zu":4.5,"zu2":4.8,"zl":-0.9,"zl2":-1.0,"xu":2.3,"xu2":3.6,"xl":-2.7,"xl2":-3.3},
  {"t":164,"zu":4.0,"zu2":4.3,"zl":-1.2,"zl2":-1.3,"xu":0.9,"xu2":1.2,"xl":-1.9,"xl2":-3.0},
  {"t":166,"zu":4.3,"zu2":4.6,"zl":-0.95,"zl2":-1.1,"xu":1.5,"xu2":1.9,"xl":-2.6,"xl2":-3.5},
  {"t":168,"zu":3.7,"zu2":4.1,"zl":-0.8,"zl2":-1.05,"xu":0.6,"xu2":1.0,"xl":-3.0,"xl2":-5.8},
  {"t":170,"zu":4.6,"zu2":4.9,"zl":-1.0,"zl2":-1.2,"xu":1.1,"xu2":1.4,"xl":-2.5,"xl2":-3.2},
  {"t":172,"zu":4.0,"zu2":4.4,"zl":-1.3,"zl2":-1.4,"xu":2.9,"xu2":2.3,"xl":-3.4,"xl2":-3.9},
  {"t":174,"zu":3.6,"zu2":4.0,"zl":-1.8,"zl2":-1.5,"xu":1.0,"xu2":1.3,"xl":-2.9,"xl2":-3.4},
  {"t":176,"zu":4.2,"zu2":4.6,"zl":-1.0,"zl2":-1.1,"xu":1.8,"xu2":2.0,"xl":-3.6,"xl2":-4.1},
  {"t":178,"zu":4.8,"zu2":5.3,"zl":-0.9,"zl2":-1.0,"xu":0.7,"xu2":1.1,"xl":-3.0,"xl2":-3.6},
  {"t":180,"zu":3.9,"zu2":4.3,"zl":-0.6,"zl2":-0.9,"xu":2.1,"xu2":3.0,"xl":-4.2,"xl2":-5.0},
  {"t":182,"zu":5.2,"zu2":6.4,"zl":-0.5,"zl2":-0.8,"xu":1.5,"xu2":3.9,"xl":-4.8,"xl2":-6.5},
  {"t":184,"zu":3.5,"zu2":4.1,"zl":-0.7,"zl2":-1.0,"xu":2.6,"xu2":1.7,"xl":-6.0,"xl2":-7.6},
  {"t":186,"zu":4.4,"zu2":4.8,"zl":-0.55,"zl2":-0.9,"xu":1.2,"xu2":2.4,"xl":-4.5,"xl2":-5.4},
  {"t":188,"zu":3.4,"zu2":4.0,"zl":-0.9,"zl2":-1.1,"xu":1.9,"xu2":1.5,"xl":-6.8,"xl2":-6.9},
  {"t":190,"zu":4.0,"zu2":4.5,"zl":-1.8,"zl2":-1.5,"xu":0.9,"xu2":2.1,"xl":-5.2,"xl2":-5.8},
  {"t":192,"zu":4.5,"zu2":4.9,"zl":-0.7,"zl2":-1.0,"xu":2.2,"xu2":1.2,"xl":-7.9,"xl2":-7.5},
  {"t":194,"zu":3.8,"zu2":4.2,"zl":-0.6,"zl2":-0.9,"xu":1.3,"xu2":1.8,"xl":-4.0,"xl2":-4.8},
  {"t":196,"zu":4.9,"zu2":5.3,"zl":-0.9,"zl2":-1.1,"xu":0.8,"xu2":1.4,"xl":-3.2,"xl2":-3.8},
  {"t":198,"zu":4.4,"zu2":4.6,"zl":-1.1,"zl2":-1.2,"xu":1.1,"xu2":1.0,"xl":-2.9,"xl2":-3.4}
 ]
},
"concat": [
 {
  "width": 286, "height": 143,
  "title": {"text": "Z(LR)", "anchor": "middle", "frame": "group", "baseline": "alphabetic", "offset": -10},
  "encoding": {
   "x": {"field": "ms", "type": "quantitative", "scale": {"domain": [0, 1000], "nice": false, "zero": false},
    "axis": {"values": [0,100,200,300,400,500,600,700,800,900,1000], "labelExpr": "datum.value == 300 || datum.value == 600 ? datum.label : ''", "grid": true, "ticks": false, "domain": false, "labelPadding": 4, "labelOverlap": false, "labelFlush": false, "title": "[ms]", "titleAnchor": "end", "titleAlign": "right", "titleX": 292, "titleY": 3, "titleBaseline": "top"}},
   "y": {"field": "g", "type": "quantitative", "scale": {"domain": [-8, 8], "nice": false, "zero": false},
    "axis": {"values": [-8,-7,-6,-5,-4,-3,-2,-1,0,1,2,3,4,5,6,7,8], "labelExpr": "datum.value == 8 ? '8G' : datum.value == 0 ? '0G' : datum.value == -8 ? '-8G' : ''", "grid": true, "ticks": false, "domain": false, "labelAlign": "left", "labelBaseline": "top", "labelPadding": 24, "labelOverlap": false, "labelFlush": false, "title": null}}
  },
  "layer": [
   {"data": {"name": "zm"}, "mark": {"type": "area", "color": "#1414a0", "opacity": 0.4}, "encoding": {"y": {"field": "lo2", "type": "quantitative", "scale": {"domain": [-8, 8], "nice": false, "zero": false}}, "y2": {"field": "hi2"}}},
   {"data": {"name": "zm"}, "mark": {"type": "area", "color": "#0c0ca0", "opacity": 0.95}, "encoding": {"y": {"field": "lo", "type": "quantitative", "scale": {"domain": [-8, 8], "nice": false, "zero": false}}, "y2": {"field": "hi"}}},
   {"data": {"name": "zpts"}, "mark": {"type": "square", "size": 4, "color": "#1c1cb8", "opacity": 1}},
   {"data": {"name": "zcyan"}, "mark": {"type": "square", "size": 6, "color": "#30e0f0", "opacity": 1}},
   {"data": {"name": "zm"}, "mark": {"type": "line", "color": "#ffffff", "strokeWidth": 1.5}},
   {"data": {"name": "zthr"}, "mark": {"type": "rule", "color": "#e6e6e6", "strokeWidth": 1.5}, "encoding": {"x2": {"field": "ms2"}}},
   {"data": {"name": "zcirc"}, "mark": {"type": "text", "font": "Noto Sans CJK JP", "fontSize": 12, "color": "#b4b4b4"}, "encoding": {"text": {"field": "txt"}}},
   {"data": {"name": "zlr"}, "mark": {"type": "text", "fontSize": 11, "color": "#f0f0f0"}, "encoding": {"text": {"field": "txt"}}},
   {"data": {"name": "zred"}, "mark": {"type": "rule", "color": "#ff2424", "strokeWidth": 2}, "encoding": {"y2": {"datum": -11.58}}}
  ]
 },
 {
  "width": 286, "height": 143,
  "title": {"text": "Z_max/min TimeTrend", "anchor": "start", "frame": "group", "baseline": "alphabetic", "offset": -10, "dx": 1},
  "data": {"name": "trend"},
  "encoding": {
   "x": {"field": "t", "type": "quantitative", "scale": {"domain": [0, 198], "nice": false, "zero": false},
    "axis": {"values": [0, 198], "labelExpr": "datum.value == 0 ? '18:40:51' : '18:44:10'", "grid": false, "ticks": false, "domain": false, "labelPadding": 4, "labelFlush": true, "labelOffset": 3, "labelOverlap": false, "title": null}}
  },
  "layer": [
   {"mark": {"type": "line", "color": "#148c8c", "strokeWidth": 1}, "encoding": {"y": {"field": "zu2", "type": "quantitative", "scale": {"domain": [-8, 8], "nice": false, "zero": false},
    "axis": {"values": [-8,-7,-6,-5,-4,-3,-2,-1,0,1,2,3,4,5,6,7,8], "labelExpr": "datum.value == 8 ? '8G' : datum.value == 0 ? '0G' : datum.value == -8 ? '-8G' : ''", "grid": true, "ticks": false, "domain": false, "labelAlign": "left", "labelBaseline": "top", "labelPadding": 24, "labelOverlap": false, "labelFlush": false, "title": null}}}},
   {"mark": {"type": "line", "color": "#148c8c", "strokeWidth": 1}, "encoding": {"y": {"field": "zl2", "type": "quantitative", "scale": {"domain": [-8, 8], "nice": false, "zero": false},
    "axis": {"values": [-8,-7,-6,-5,-4,-3,-2,-1,0,1,2,3,4,5,6,7,8], "labelExpr": "datum.value == 8 ? '8G' : datum.value == 0 ? '0G' : datum.value == -8 ? '-8G' : ''", "grid": true, "ticks": false, "domain": false, "labelAlign": "left", "labelBaseline": "top", "labelPadding": 24, "labelOverlap": false, "labelFlush": false, "title": null}}}},
   {"mark": {"type": "line", "color": "#2ac8c8", "strokeWidth": 1}, "encoding": {"y": {"field": "zu", "type": "quantitative", "scale": {"domain": [-8, 8], "nice": false, "zero": false},
    "axis": {"values": [-8,-7,-6,-5,-4,-3,-2,-1,0,1,2,3,4,5,6,7,8], "labelExpr": "datum.value == 8 ? '8G' : datum.value == 0 ? '0G' : datum.value == -8 ? '-8G' : ''", "grid": true, "ticks": false, "domain": false, "labelAlign": "left", "labelBaseline": "top", "labelPadding": 24, "labelOverlap": false, "labelFlush": false, "title": null}}}},
   {"mark": {"type": "line", "color": "#2ac8c8", "strokeWidth": 1}, "encoding": {"y": {"field": "zl", "type": "quantitative", "scale": {"domain": [-8, 8], "nice": false, "zero": false},
    "axis": {"values": [-8,-7,-6,-5,-4,-3,-2,-1,0,1,2,3,4,5,6,7,8], "labelExpr": "datum.value == 8 ? '8G' : datum.value == 0 ? '0G' : datum.value == -8 ? '-8G' : ''", "grid": true, "ticks": false, "domain": false, "labelAlign": "left", "labelBaseline": "top", "labelPadding": 24, "labelOverlap": false, "labelFlush": false, "title": null}}}}
  ]
 },
 {
  "width": 286, "height": 143,
  "title": {"text": "X(LR)", "anchor": "middle", "frame": "group", "baseline": "alphabetic", "offset": -10},
  "encoding": {
   "x": {"field": "ms", "type": "quantitative", "scale": {"domain": [0, 1000], "nice": false, "zero": false},
    "axis": {"values": [0,100,200,300,400,500,600,700,800,900,1000], "labelExpr": "datum.value == 300 || datum.value == 600 ? datum.label : ''", "grid": true, "ticks": false, "domain": false, "labelPadding": 4, "labelOverlap": false, "labelFlush": false, "title": "[ms]", "titleAnchor": "end", "titleAlign": "right", "titleX": 292, "titleY": 3, "titleBaseline": "top"}},
   "y": {"field": "g", "type": "quantitative", "scale": {"domain": [-8, 8], "nice": false, "zero": false},
    "axis": {"values": [-8,-7,-6,-5,-4,-3,-2,-1,0,1,2,3,4,5,6,7,8], "labelExpr": "datum.value == 8 ? '8G' : datum.value == 0 ? '0G' : datum.value == -8 ? '-8G' : ''", "grid": true, "ticks": false, "domain": false, "labelAlign": "left", "labelBaseline": "top", "labelPadding": 24, "labelOverlap": false, "labelFlush": false, "title": null}}
  },
  "layer": [
   {"data": {"name": "xspd"}, "mark": {"type": "area", "color": "#149614", "opacity": 0.35}, "encoding": {"detail": {"field": "grp"}, "y": {"field": "lo", "type": "quantitative", "scale": {"domain": [-8, 8], "nice": false, "zero": false}}, "y2": {"field": "hi"}}},
   {"data": {"name": "xm"}, "mark": {"type": "area", "color": "#1a9a1a", "opacity": 0.9}, "encoding": {"y": {"field": "lo", "type": "quantitative", "scale": {"domain": [-8, 8], "nice": false, "zero": false}}, "y2": {"field": "hi"}}},
   {"data": {"name": "xspl"}, "mark": {"type": "area", "color": "#8ee08e", "opacity": 0.3}, "encoding": {"detail": {"field": "grp"}, "y": {"field": "lo", "type": "quantitative", "scale": {"domain": [-8, 8], "nice": false, "zero": false}}, "y2": {"field": "hi"}}},
   {"data": {"name": "xpts"}, "mark": {"type": "square", "size": 4, "color": "#1aa01a", "opacity": 1}},
   {"data": {"name": "xlpts"}, "mark": {"type": "square", "size": 4, "color": "#a0f0a0", "opacity": 1}},
   {"data": {"name": "xm"}, "mark": {"type": "line", "color": "#ffffff", "strokeWidth": 1.5}},
   {"data": {"name": "xthr"}, "mark": {"type": "rule", "color": "#e6e6e6", "strokeWidth": 1.5}, "encoding": {"x2": {"field": "ms2"}}},
   {"data": {"name": "xcirc"}, "mark": {"type": "text", "font": "Noto Sans CJK JP", "fontSize": 12, "color": "#b4b4b4"}, "encoding": {"text": {"field": "txt"}}},
   {"data": {"name": "xlr"}, "mark": {"type": "text", "fontSize": 11, "color": "#f0f0f0"}, "encoding": {"text": {"field": "txt"}}},
   {"data": {"name": "xred"}, "mark": {"type": "rule", "color": "#ff2424", "strokeWidth": 2}, "encoding": {"y2": {"datum": -5.73}}}
  ]
 },
 {
  "width": 286, "height": 143,
  "title": {"text": "X_max/min TimeTrend", "anchor": "start", "frame": "group", "baseline": "alphabetic", "offset": -10, "dx": 1},
  "data": {"name": "trend"},
  "encoding": {
   "x": {"field": "t", "type": "quantitative", "scale": {"domain": [0, 198], "nice": false, "zero": false},
    "axis": {"values": [0, 198], "labelExpr": "datum.value == 0 ? '18:40:51' : '18:44:10'", "grid": false, "ticks": false, "domain": false, "labelPadding": 4, "labelFlush": true, "labelOffset": 3, "labelOverlap": false, "title": null}}
  },
  "layer": [
   {"mark": {"type": "line", "color": "#1e8c1e", "strokeWidth": 1}, "encoding": {"y": {"field": "xu2", "type": "quantitative", "scale": {"domain": [-8, 8], "nice": false, "zero": false},
    "axis": {"values": [-8,-7,-6,-5,-4,-3,-2,-1,0,1,2,3,4,5,6,7,8], "labelExpr": "datum.value == 8 ? '8G' : datum.value == 0 ? '0G' : datum.value == -8 ? '-8G' : ''", "grid": true, "ticks": false, "domain": false, "labelAlign": "left", "labelBaseline": "top", "labelPadding": 24, "labelOverlap": false, "labelFlush": false, "title": null}}}},
   {"mark": {"type": "line", "color": "#1e8c1e", "strokeWidth": 1}, "encoding": {"y": {"field": "xl2", "type": "quantitative", "scale": {"domain": [-8, 8], "nice": false, "zero": false},
    "axis": {"values": [-8,-7,-6,-5,-4,-3,-2,-1,0,1,2,3,4,5,6,7,8], "labelExpr": "datum.value == 8 ? '8G' : datum.value == 0 ? '0G' : datum.value == -8 ? '-8G' : ''", "grid": true, "ticks": false, "domain": false, "labelAlign": "left", "labelBaseline": "top", "labelPadding": 24, "labelOverlap": false, "labelFlush": false, "title": null}}}},
   {"mark": {"type": "line", "color": "#86dc86", "strokeWidth": 1}, "encoding": {"y": {"field": "xu", "type": "quantitative", "scale": {"domain": [-8, 8], "nice": false, "zero": false},
    "axis": {"values": [-8,-7,-6,-5,-4,-3,-2,-1,0,1,2,3,4,5,6,7,8], "labelExpr": "datum.value == 8 ? '8G' : datum.value == 0 ? '0G' : datum.value == -8 ? '-8G' : ''", "grid": true, "ticks": false, "domain": false, "labelAlign": "left", "labelBaseline": "top", "labelPadding": 24, "labelOverlap": false, "labelFlush": false, "title": null}}}},
   {"mark": {"type": "line", "color": "#86dc86", "strokeWidth": 1}, "encoding": {"y": {"field": "xl", "type": "quantitative", "scale": {"domain": [-8, 8], "nice": false, "zero": false},
    "axis": {"values": [-8,-7,-6,-5,-4,-3,-2,-1,0,1,2,3,4,5,6,7,8], "labelExpr": "datum.value == 8 ? '8G' : datum.value == 0 ? '0G' : datum.value == -8 ? '-8G' : ''", "grid": true, "ticks": false, "domain": false, "labelAlign": "left", "labelBaseline": "top", "labelPadding": 24, "labelOverlap": false, "labelFlush": false, "title": null}}}}
  ]
 },
 {
  "width": 286, "height": 23,
  "title": {"text": "Y(LR)", "anchor": "middle", "frame": "group", "baseline": "alphabetic", "offset": -10},
  "view": {"stroke": null},
  "data": {"name": "ylr"},
  "mark": {"type": "text", "fontSize": 11, "color": "#f0f0f0"},
  "encoding": {
   "x": {"field": "ms", "type": "quantitative", "scale": {"domain": [0, 1000], "nice": false, "zero": false},
    "axis": {"values": [0,100,200,300,400,500,600,700,800,900,1000], "labels": false, "grid": true, "ticks": false, "domain": false, "title": null}},
   "y": {"field": "g", "type": "quantitative", "scale": {"domain": [5.4266, 8], "nice": false, "zero": false},
    "axis": {"values": [6, 7, 8], "labelExpr": "datum.value == 8 ? '8G' : ''", "grid": true, "ticks": false, "domain": false, "labelAlign": "left", "labelBaseline": {"condition": {"test": "datum.value == 8", "value": "top"}, "value": "bottom"}, "labelPadding": 24, "labelOverlap": false, "labelFlush": false, "title": null}},
   "text": {"field": "txt"}
  }
 },
 {
  "width": 286, "height": 23,
  "view": {"stroke": null},
  "data": {"values": [{}]},
  "layer": [
   {"mark": {"type": "rect", "color": "#cdcdcd"}, "encoding": {
    "x": {"datum": -33.5, "type": "quantitative", "scale": {"domain": [0, 286], "nice": false, "zero": false}, "axis": null},
    "x2": {"datum": -30.5},
    "y": {"datum": -364, "type": "quantitative", "scale": {"domain": [0, 23], "nice": false, "zero": false, "reverse": true}, "axis": null},
    "y2": {"datum": 24}}},
   {"mark": {"type": "rect", "color": "#e8e8e8"}, "encoding": {
    "x": {"datum": -377, "type": "quantitative", "scale": {"domain": [0, 286], "nice": false, "zero": false}, "axis": null},
    "x2": {"datum": 313},
    "y": {"datum": -192.5, "type": "quantitative", "scale": {"domain": [0, 23], "nice": false, "zero": false, "reverse": true}, "axis": null},
    "y2": {"datum": -190}}},
   {"mark": {"type": "rect", "color": "#e8e8e8"}, "encoding": {
    "x": {"datum": -377, "type": "quantitative", "scale": {"domain": [0, 286], "nice": false, "zero": false}, "axis": null},
    "x2": {"datum": 313},
    "y": {"datum": -17.5, "type": "quantitative", "scale": {"domain": [0, 23], "nice": false, "zero": false, "reverse": true}, "axis": null},
    "y2": {"datum": -15}}}
  ]
 }
]
}
